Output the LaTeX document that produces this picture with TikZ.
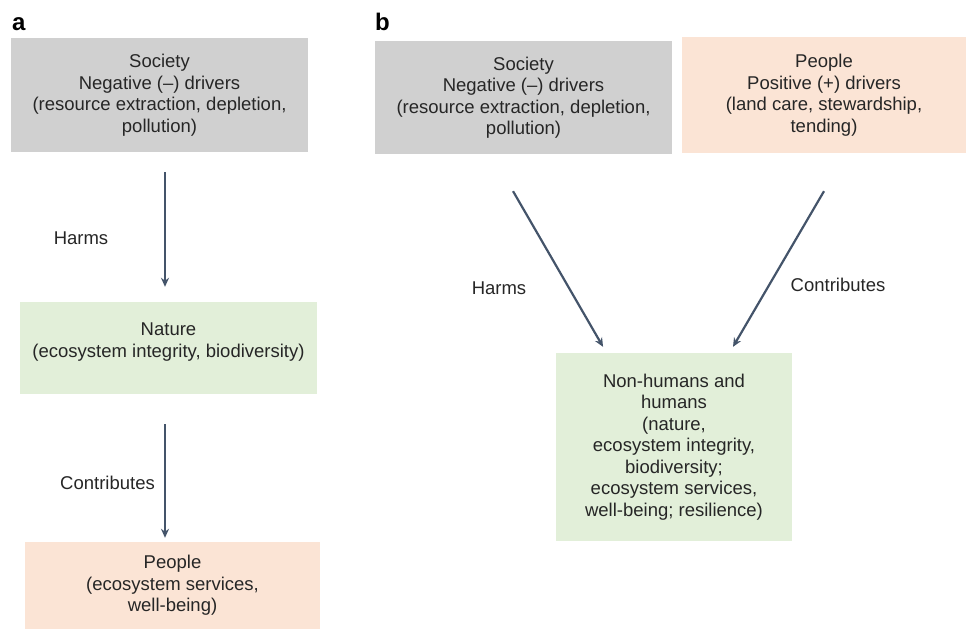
\documentclass[tikz,border=0pt]{standalone}
\usepackage{fontspec}
\setmainfont{Liberation Sans}
\usetikzlibrary{arrows.meta}
\definecolor{boxgray}{HTML}{D0D0D0}
\definecolor{boxgreen}{HTML}{E2EFD9}
\definecolor{boxpeach}{HTML}{FBE4D5}
\definecolor{arrowcol}{HTML}{44546A}
\begin{document}
\begin{tikzpicture}[x=1pt,y=-1pt,
  box/.style={inner sep=0pt, align=center, font=\fontsize{18.5}{21.5}\selectfont, text=black!85},
  lbl/.style={inner sep=0pt, font=\fontsize{18.5}{21.5}\selectfont, text=black!85},
  panel/.style={inner sep=0pt, anchor=base west, font=\fontsize{24}{26}\selectfont\bfseries},
  arr/.style={draw=arrowcol, line width=2.2pt, -{Stealth[length=9pt,width=8pt]}}]
\useasboundingbox (0,0) rectangle (966,630);

\node[panel] (pa) at (12,30) {a};
\node[panel] (pb) at (375,30) {b};

% panel a
\node[box, fill=boxgray, minimum width=297pt, minimum height=114pt] (soca) at (159.5,95)
  {Society\\Negative (–) drivers\\(resource extraction, depletion,\\pollution)};
\node[box, fill=boxgreen, minimum width=297pt, minimum height=92pt,
  label={[name=natt, align=center, yshift=6pt, font=\fontsize{18.5}{21.5}\selectfont, text=black!85]center:Nature\\(ecosystem integrity, biodiversity)}] (nat) at (168.5,348) {};
\node[box, fill=boxpeach, minimum width=295pt, minimum height=87pt] (peoa) at (172.5,585.5)
  {People\\(ecosystem services,\\well-being)};

\draw[arr, shorten <=20pt, shorten >=15pt] ([xshift=5.5pt]soca.south) -- ([xshift=-3.5pt]nat.north);
\draw[arr, shorten <=30pt, shorten >=4pt] ([xshift=-3.5pt]nat.south) -- ([xshift=-7.5pt]peoa.north);
\node[lbl] (harmsa) at (81,238) {Harms};
\node[lbl] (contra) at (107.5,483) {Contributes};

% panel b
\node[box, fill=boxgray, minimum width=297pt, minimum height=113pt] (socb) at (523.5,97.5)
  {Society\\Negative (–) drivers\\(resource extraction, depletion,\\pollution)};
\node[box, fill=boxpeach, minimum width=284pt, minimum height=116pt] (peob) at (824,95)
  {People\\Positive (+) drivers\\(land care, stewardship,\\tending)};
\node[box, fill=boxgreen, minimum width=236pt, minimum height=188pt] (nh) at (674,447)
  {Non-humans and\\humans\\(nature,\\ecosystem integrity,\\biodiversity;\\ecosystem services,\\well-being; resilience)};

\draw[arr, shorten <=42.7pt, shorten >=6.9pt] ([xshift=-31.85pt]socb.south) -- ([xshift=-67.5pt]nh.north);
\draw[arr, shorten <=44pt, shorten >=6.9pt] ([xshift=22.2pt]peob.south) -- ([xshift=55.5pt]nh.north);
\node[lbl] (harmsb) at (499,288) {Harms};
\node[lbl] (contrb) at (838,285) {Contributes};
\end{tikzpicture}
\end{document}
